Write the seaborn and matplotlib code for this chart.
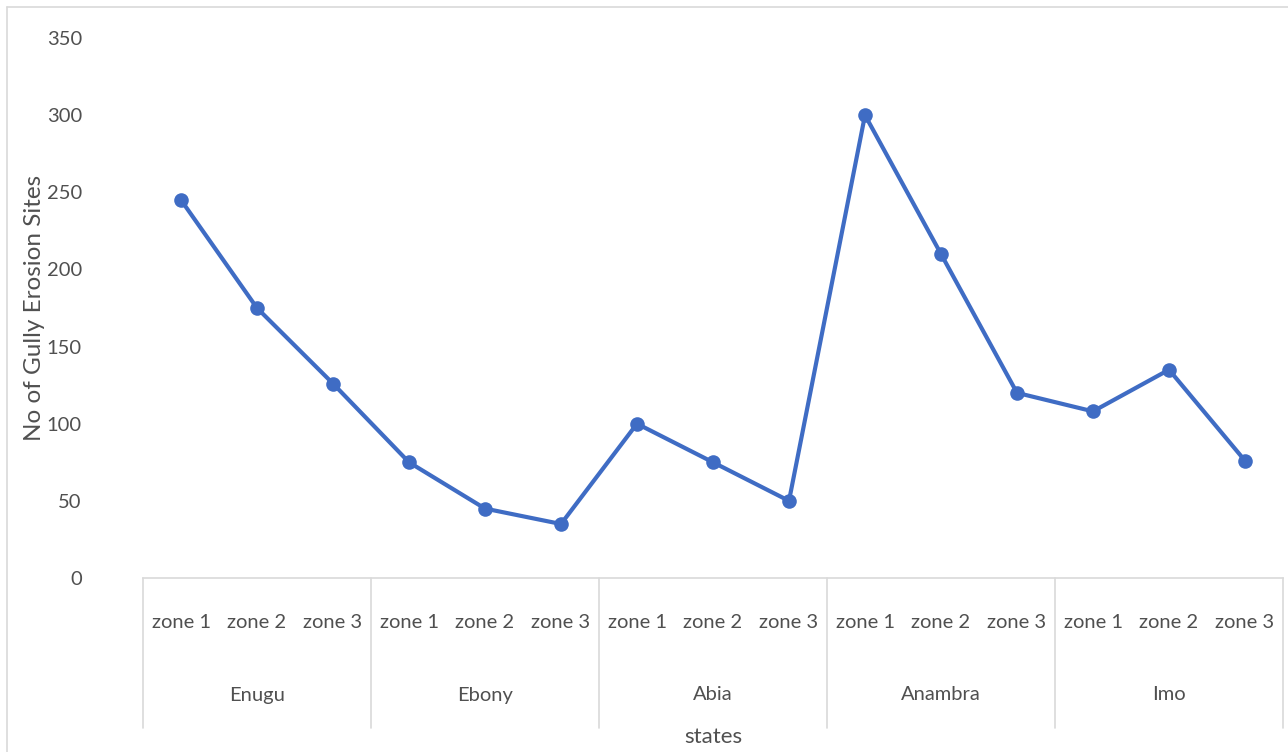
import matplotlib
matplotlib.use("Agg")
import matplotlib.pyplot as plt
import matplotlib.transforms as mtransforms
from matplotlib.lines import Line2D
import seaborn as sns
import pandas as pd
import numpy as np

states = ["Enugu", "Ebony", "Abia", "Anambra", "Imo"]
zones = ["zone 1", "zone 2", "zone 3"]
sites = [245, 175, 126, 75, 45, 35, 100, 75, 50, 300, 210, 120, 108, 135, 76]
y_ticks = [0, 50, 100, 150, 200, 250, 300, 350]

sns.set_theme(style="white")
plt.rcParams["font.family"] = ["Lato", "DejaVu Sans"]

TEXT = "#505050"
GRID = "#D9D9D9"
BLUE = "#3F6CC4"

df = pd.DataFrame({
    "pos": np.arange(len(sites)),
    "state": [s for s in states for _ in zones],
    "zone": zones * len(states),
    "sites": sites,
})

fig = plt.figure(figsize=(12.88, 7.52), dpi=100)
W, H = 1288, 752
x0, x1 = 143, 1283
y_top, y_bot = 38, 578
ax = fig.add_axes([x0 / W, 1 - y_bot / H, (x1 - x0) / W, (y_bot - y_top) / H])

sns.lineplot(data=df, x="pos", y="sites", ax=ax, color=BLUE, linewidth=3.0,
             marker="o", markersize=10.5, markeredgewidth=0, markerfacecolor=BLUE)

n = len(sites)
ax.set_xlim(-0.5, n - 0.5)
ax.set_ylim(0, 350)
ax.set_yticks(y_ticks)
ax.set_yticklabels([str(t) for t in y_ticks], color=TEXT, fontsize=14.5)
ax.tick_params(axis="y", length=0, pad=44)
ax.set_xticks(df["pos"])
ax.set_xticklabels(df["zone"], color=TEXT, fontsize=14.5)
ax.tick_params(axis="x", length=0, pad=26)
for s in ["left", "right", "top"]:
    ax.spines[s].set_visible(False)
ax.spines["bottom"].set_color(GRID)
ax.spines["bottom"].set_linewidth(1.2)
ax.grid(False)

ax.set_ylabel("No of Gully Erosion Sites", color=TEXT, fontsize=17.5)
ax.yaxis.set_label_coords((45 - x0) / (x1 - x0), 0.5)
ax.set_xlabel("")

trans = mtransforms.blended_transform_factory(ax.transData, fig.transFigure)
sep_bottom = 1 - 728 / H
sep_top = 1 - y_bot / H
for k in range(len(states) + 1):
    xb = k * len(zones) - 0.5
    ax.add_line(Line2D([xb, xb], [sep_top, sep_bottom], transform=trans,
                       color=GRID, linewidth=1.2, clip_on=False))
for k, s in enumerate(states):
    xc = k * len(zones) + (len(zones) - 1) / 2
    ax.text(xc, 1 - 695 / H, s, transform=trans, ha="center", va="center",
            color=TEXT, fontsize=14.5)

fig.text((x0 + x1) / 2 / W, 1 - 737 / H, "states", ha="center", va="center",
         color=TEXT, fontsize=16)

# chart area border (left/top visible in reference)
fig.add_artist(Line2D([7 / W, 7 / W], [0, 1 - 7 / H], transform=fig.transFigure,
                      color=GRID, linewidth=1.2))
fig.add_artist(Line2D([7 / W, 1], [1 - 7 / H, 1 - 7 / H], transform=fig.transFigure,
                      color=GRID, linewidth=1.2))

fig.savefig("out.png", dpi=100, facecolor="white")
